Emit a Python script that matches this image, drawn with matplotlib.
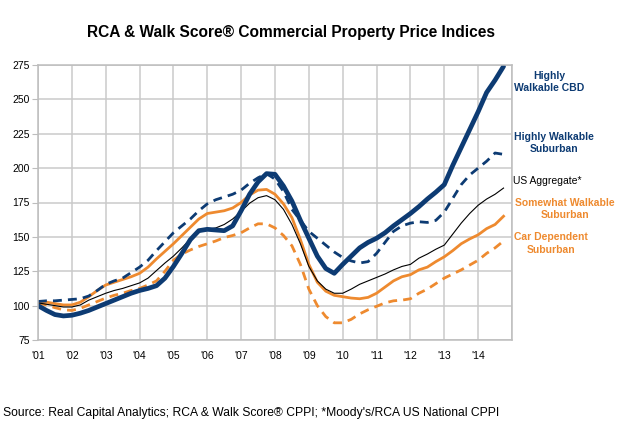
import numpy as np
import matplotlib
matplotlib.use("Agg")
import matplotlib.pyplot as plt

plt.rcParams['font.family'] = ['Liberation Sans', 'DejaVu Sans']

# quarterly points, years since start of 2001
t = np.arange(0, 13.76, 0.25)

cbd = [100, 96.5, 93.5, 92.5, 93, 94.5, 96.5, 99, 101.5, 104, 106.5, 109,
       111, 112.5, 114.5, 120, 128.5, 138, 148, 154.5, 155.5, 155, 154.5, 158,
       169, 181, 190, 196, 195.5, 187, 176, 162, 149, 136, 127, 123.5,
       130, 136, 142, 146, 149, 153, 158, 162.5, 167, 172, 177.5, 182.5,
       188, 202, 215, 228, 241, 255, 264, 274]
hw_sub = [103, 103.5, 103.5, 104, 104.5, 105, 107, 111, 115.5, 118, 120, 124,
          128, 133, 140, 146.5, 153, 158, 163, 169, 174, 177, 179, 181,
          184, 189, 193, 196, 192, 183, 170, 162, 154, 149, 144, 139,
          135, 132.5, 131, 132, 138, 146, 154, 158, 160, 161, 160.5, 162,
          168, 178, 188, 195, 200, 205, 211, 210]
us_agg = [102, 101, 100, 99, 99, 100.5, 104, 106.5, 109, 111, 112.5, 114.5,
          116.5, 120, 125.5, 131, 136, 142, 148.5, 153.5, 155.5, 156.5, 159, 163,
          168.5, 174.5, 178.5, 180, 177, 170, 159, 145, 128.5, 118, 112, 109,
          109, 112, 115.5, 118, 120.5, 123, 126, 128.5, 130, 134.5, 137.5, 141,
          144, 152, 160, 167, 173, 177.5, 181, 185.5]
sw_sub = [103, 102.5, 101.5, 100.5, 100.5, 102.5, 106.5, 111, 115, 117, 119, 121,
          123.5, 128, 134, 139.5, 145, 151, 157, 163, 167, 168, 169, 171,
          175, 180.5, 184, 184.5, 181, 174, 164, 148, 130, 117, 110.5, 107.5,
          106.5, 105.5, 105, 106, 109, 113.5, 118, 121, 122.5, 126, 128, 132,
          135.5, 140, 145, 148.5, 151.5, 156, 159, 165]
car_sub = [102, 100.5, 98.5, 97, 96.5, 98, 100.5, 103, 105.5, 107.5, 109, 111,
           112.5, 115, 118, 125, 133, 137.5, 140.5, 143, 145, 147, 149.5, 151,
           153, 156.5, 159.5, 159.5, 156.5, 151, 143.5, 130, 112, 100, 92, 87.5,
           87.5, 90, 94, 97, 99.5, 102, 103.5, 104, 105, 109, 112, 116,
           120, 123, 126, 129.5, 133, 138, 142, 147]

year_labels = ["'01", "'02", "'03", "'04", "'05", "'06", "'07", "'08", "'09",
               "'10", "'11", "'12", "'13", "'14"]

navy = '#0D3B73'
orange = '#EE8A2F'

x = 2001 + t

fig = plt.figure(figsize=(6.41, 4.41), dpi=100)
ax = fig.add_axes([38/641, 1-340/441, (512-38)/641, (340-65)/441])

ax.plot(x, car_sub, color=orange, lw=2.0, dashes=(3.2, 2.2))
ax.plot(x, sw_sub, color=orange, lw=2.0)
ax.plot(x, us_agg, color='black', lw=0.8)
ax.plot(x, hw_sub, color=navy, lw=2.0, dashes=(3.2, 2.2))
ax.plot(x, cbd, color=navy, lw=3.4, solid_capstyle='round')

ax.set_xlim(2001, 2015)
ax.set_ylim(75, 275)
ax.set_xticks(np.arange(2001, 2016))
ax.set_xticklabels(year_labels + [''])
ax.set_yticks(np.arange(75, 276, 25))
ax.grid(True, color='#CACACA', lw=1.1)
ax.set_axisbelow(True)
for s in ax.spines.values():
    s.set_color('#BDBDBD')
    s.set_linewidth(1.1)
ax.tick_params(axis='y', length=4, color='#BDBDBD', labelsize=7.5, pad=2)
ax.tick_params(axis='x', length=0, labelsize=7.5, pad=8)

fig.text(0.454, 1-32/441, 'RCA & Walk Score® Commercial Property Price Indices',
         ha='center', va='center', fontsize=11.2, fontweight='bold')

# right-side series labels
fs = 7.5
fig.text(549/641, 1-82/441, 'Highly\nWalkable CBD', ha='center', va='center',
         fontsize=fs, fontweight='bold', color=navy, linespacing=1.3)
fig.text(554/641, 1-143/441, 'Highly Walkable\nSuburban', ha='center', va='center',
         fontsize=fs, fontweight='bold', color=navy, linespacing=1.3)
fig.text(513/641, 1-181/441, 'US Aggregate*', ha='left', va='center',
         fontsize=fs, color='black')
fig.text(565/641, 1-209/441, 'Somewhat Walkable\nSuburban', ha='center', va='center',
         fontsize=fs, fontweight='bold', color=orange, linespacing=1.3)
fig.text(551/641, 1-243.5/441, 'Car Dependent\nSuburban', ha='center', va='center',
         fontsize=fs, fontweight='bold', color=orange, linespacing=1.3)

fig.text(3/641, 1-413/441,
         "Source: Real Capital Analytics; RCA & Walk Score® CPPI; *Moody's/RCA US National CPPI",
         ha='left', va='center', fontsize=8.7)

fig.savefig('out.png', dpi=100)
